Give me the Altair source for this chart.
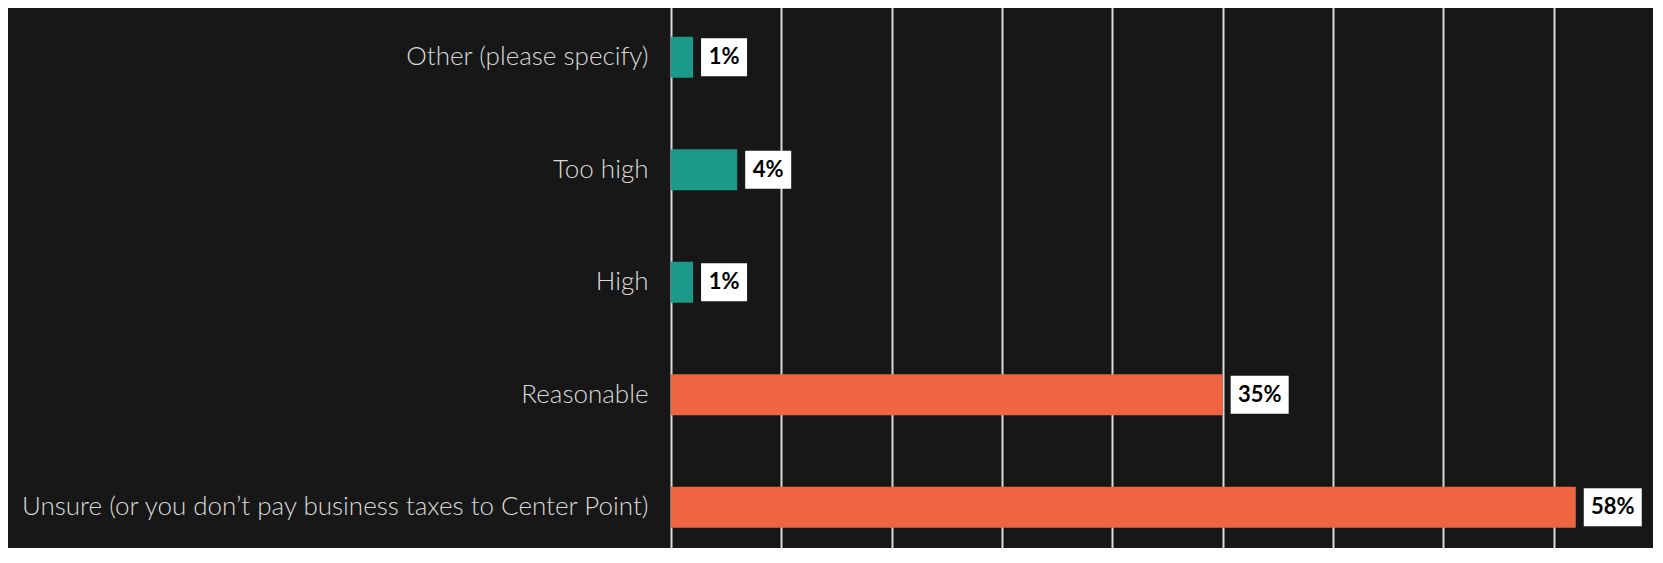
import altair as alt
import pandas as pd

categories = [
    "Other (please specify)",
    "Too high",
    "High",
    "Reasonable",
    "Unsure (or you don\u2019t pay business taxes to Center Point)",
]
responses = [1, 3, 1, 25, 41]          # respondent counts (n = 71)
pct_labels = ["1%", "4%", "1%", "35%", "58%"]
groups = ["teal", "teal", "teal", "orange", "orange"]
grid_ticks = [0, 5, 10, 15, 20, 25, 30, 35, 40, 45]

df = pd.DataFrame({
    "category": categories,
    "responses": responses,
    "label": pct_labels,
    "group": groups,
})

BG = "#171717"
yscale = alt.Scale(domain=categories, range=[-7, 555.5], paddingInner=0, paddingOuter=0)

base = alt.Chart(df).encode(
    y=alt.Y(
        "category:N",
        sort=categories,
        scale=yscale,
        axis=alt.Axis(
            title=None, ticks=False, domain=False, labelFont="Lato",
            labelFontSize=26, labelFontWeight=300, labelColor="#DADADA",
            labelPadding=23, labelLimit=800,
        ),
    )
)

bars = base.mark_bar(size=41).encode(
    x=alt.X(
        "responses:Q",
        scale=alt.Scale(domain=[0, 44.5], nice=False, zero=True),
        axis=alt.Axis(
            title=None, labels=False, ticks=False, domain=False,
            values=grid_ticks, grid=True, gridColor="#D9D9D9", gridWidth=2,
        ),
    ),
    color=alt.Color(
        "group:N",
        scale=alt.Scale(domain=["teal", "orange"], range=["#1B9A8A", "#EF6441"]),
        legend=None,
    ),
)

box2 = base.transform_filter("length(datum.label) == 2").mark_bar(
    size=38, color="white", xOffset=8, x2Offset=54
).encode(x="responses:Q", x2="responses:Q")

box3 = base.transform_filter("length(datum.label) == 3").mark_bar(
    size=38, color="white", xOffset=8, x2Offset=66
).encode(x="responses:Q", x2="responses:Q")

text2 = base.transform_filter("length(datum.label) == 2").mark_text(
    font="Lato", fontWeight="bold", fontSize=22, color="black", dx=31, align="center"
).encode(x="responses:Q", text="label:N")

text3 = base.transform_filter("length(datum.label) == 3").mark_text(
    font="Lato", fontWeight="bold", fontSize=22, color="black", dx=37, align="center"
).encode(x="responses:Q", text="label:N")

chart = alt.layer(bars, box2, box3, text2, text3).properties(
    width=982,
    height=540,
    background=BG,
    padding={"left": 663, "top": 0, "right": 0, "bottom": 0},
    autosize=alt.AutoSizeParams(type="none"),
).configure_view(stroke=None)

chart.save("out.html", embed_options={"renderer": "svg", "actions": False})
